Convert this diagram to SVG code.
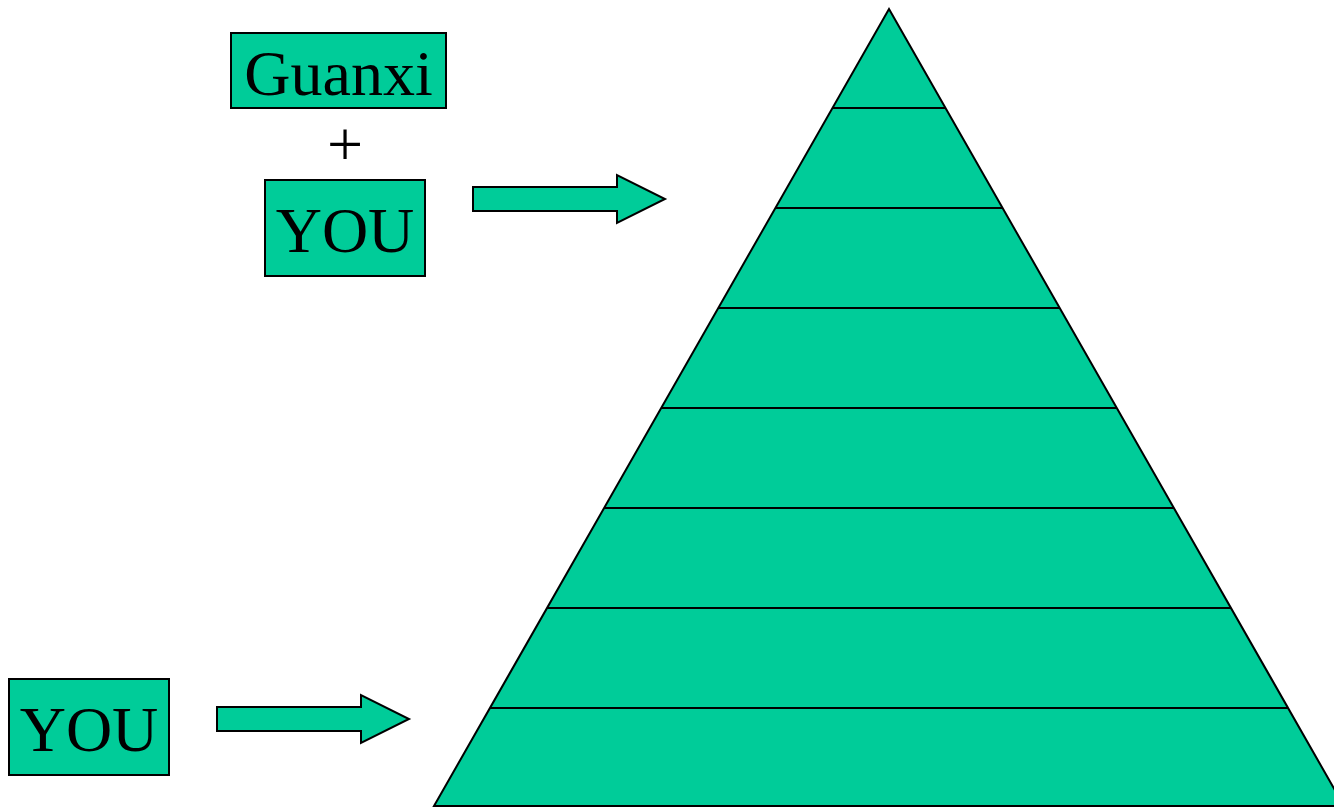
<svg xmlns="http://www.w3.org/2000/svg" width="1334" height="807" viewBox="0 0 1334 807">
<style>
.box{fill:#00CC99;stroke:#000;stroke-width:2}
.lbl{font-family:"Liberation Serif",serif;font-size:64px;fill:#000;text-anchor:middle}
.arr{fill:#00CC99;stroke:#000;stroke-width:2;stroke-linejoin:miter}
.lvl{stroke:#000;stroke-width:2}
</style>
<rect width="1334" height="807" fill="#fff"/>
<g id="pyramid">
<polygon class="box" points="889,9 1344,806 434,806"/>
<line class="lvl" x1="832" y1="108" x2="946" y2="108"/>
<line class="lvl" x1="775" y1="208" x2="1003" y2="208"/>
<line class="lvl" x1="718" y1="308" x2="1060" y2="308"/>
<line class="lvl" x1="661" y1="408" x2="1117" y2="408"/>
<line class="lvl" x1="604" y1="508" x2="1174" y2="508"/>
<line class="lvl" x1="547" y1="608" x2="1231" y2="608"/>
<line class="lvl" x1="490" y1="708" x2="1288" y2="708"/>
</g>
<g id="guanxi">
<rect class="box" x="231" y="33" width="215" height="75"/>
<text class="lbl" x="338.5" y="95">Guanxi</text>
</g>
<g id="plus">
<text class="lbl" x="345" y="166">+</text>
</g>
<g id="you-top">
<rect class="box" x="265" y="180" width="160" height="96"/>
<text class="lbl" x="345" y="252">YOU</text>
</g>
<g id="you-bottom">
<rect class="box" x="9" y="679" width="160" height="96"/>
<text class="lbl" x="89" y="751">YOU</text>
</g>
<g id="connectors">
<polygon class="arr" points="473,187 617,187 617,175 665,199 617,223 617,211 473,211"/>
<polygon class="arr" points="217,707 361,707 361,695 409,719 361,743 361,731 217,731"/>
</g>
</svg>
